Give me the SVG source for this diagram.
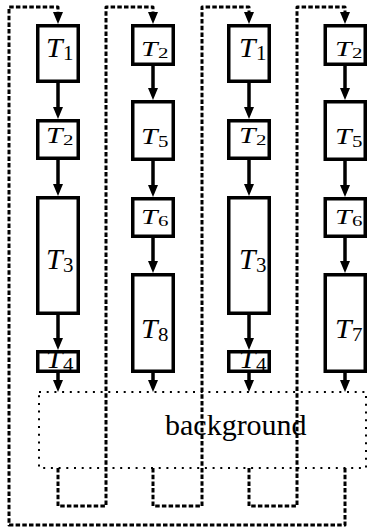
<svg xmlns="http://www.w3.org/2000/svg" width="367" height="529" viewBox="0 0 367 529">
  <defs>
    <marker id="ah" markerUnits="userSpaceOnUse" markerWidth="12" markerHeight="10" viewBox="0 0 12 10" refX="4" refY="5" orient="auto">
      <path d="M0,0 L12,5 L0,10 z" fill="#000"/>
    </marker>
    <style>
      .box{fill:#fff;stroke:#000;stroke-width:3.5}
      .open{fill:none}
      .flow{fill:none;stroke:#000;stroke-width:3.5;marker-end:url(#ah)}
      .loop{fill:none;stroke:#000;stroke-width:3;stroke-dasharray:4.5 2.2;stroke-linejoin:round;marker-end:url(#ah)}
      .bg{fill:none;stroke:#000;stroke-width:2;stroke-dasharray:2 5.7}
      .t{font-family:"Liberation Serif",serif;font-style:italic;font-size:27px}
      .s{font-family:"Liberation Serif",serif;font-size:19px}
      .bgt{font-family:"Liberation Serif",serif;font-size:30px}
    </style>
  </defs>
  <rect width="367" height="529" fill="#fff"/>

  <!-- shared background region -->
  <g id="background">
    <rect class="bg" x="39" y="392" width="327" height="76"/>
    <text class="bgt" x="165" y="435">background</text>
  </g>

  <!-- connectors -->
  <g id="connectors">
    <!-- column 1 -->
    <path class="flow" d="M58,83 V111"/>
    <path class="flow" d="M58,160 V188"/>
    <path class="flow" d="M58,315 V342"/>
    <path class="flow" d="M58,373 V384"/>
    <!-- column 2 -->
    <path class="flow" d="M153,66 V92"/>
    <path class="flow" d="M153,161 V189"/>
    <path class="flow" d="M153,238 V265"/>
    <path class="flow" d="M153,373 V384"/>
    <!-- column 3 -->
    <path class="flow" d="M249,83 V111"/>
    <path class="flow" d="M249,160 V188"/>
    <path class="flow" d="M249,315 V342"/>
    <path class="flow" d="M249,373 V384"/>
    <!-- column 4 -->
    <path class="flow" d="M345,66 V92"/>
    <path class="flow" d="M345,161 V189"/>
    <path class="flow" d="M345,238 V265"/>
    <path class="flow" d="M345,373 V384"/>
    <!-- hand-over loops between columns -->
    <path class="loop" d="M58,468 V506 H106 V7 H153 V16"/>
    <path class="loop" d="M153,468 V506 H202 V7 H249 V16"/>
    <path class="loop" d="M249,468 V506 H297 V7 H345 V16"/>
    <path class="loop" d="M345,468 V525 H9 V7 H58 V16"/>
  </g>

  <!-- column 1 -->
  <g id="c1-t1">
    <rect class="box" x="37.75" y="25.75" width="40.5" height="55.5"/>
    <g transform="translate(46,57) scale(1.1,1.05)"><text class="t">T</text><text class="s" x="15.5" y="3">1</text></g>
  </g>
  <g id="c1-t2">
    <rect class="box" x="37.75" y="120.75" width="40.5" height="37.5"/>
    <g transform="translate(46,143) scale(1.1,0.82)"><text class="t">T</text><text class="s" x="15.5" y="3">2</text></g>
  </g>
  <g id="c1-t3">
    <rect class="box" x="37.75" y="197.75" width="40.5" height="115.5"/>
    <g transform="translate(46,269) scale(1.1,1.1)"><text class="t">T</text><text class="s" x="15.5" y="3">3</text></g>
  </g>
  <g id="c1-t4">
    <g transform="translate(46,368) scale(1.1,1)"><text class="t">T</text><text class="s" x="15.5" y="3">4</text></g>
    <rect class="box open" x="37.75" y="351.75" width="40.5" height="19.5"/>
  </g>

  <!-- column 2 -->
  <g id="c2-t2">
    <rect class="box" x="132.75" y="25.75" width="40.5" height="38.5"/>
    <g transform="translate(141,56) scale(1.1,0.78)"><text class="t">T</text><text class="s" x="15.5" y="3">2</text></g>
  </g>
  <g id="c2-t5">
    <rect class="box" x="132.75" y="101.75" width="40.5" height="57.5"/>
    <g transform="translate(141,144) scale(1.1,0.88)"><text class="t">T</text><text class="s" x="15.5" y="3">5</text></g>
  </g>
  <g id="c2-t6">
    <rect class="box" x="132.75" y="198.75" width="40.5" height="37.5"/>
    <g transform="translate(141,224) scale(1.1,0.78)"><text class="t">T</text><text class="s" x="15.5" y="3">6</text></g>
  </g>
  <g id="c2-t8">
    <rect class="box" x="132.75" y="274.75" width="40.5" height="96.5"/>
    <g transform="translate(141,338) scale(1.1,1)"><text class="t">T</text><text class="s" x="15.5" y="3">8</text></g>
  </g>

  <!-- column 3 -->
  <g id="c3-t1">
    <rect class="box" x="228.75" y="25.75" width="40.5" height="55.5"/>
    <g transform="translate(239,57) scale(1.1,1.05)"><text class="t">T</text><text class="s" x="15.5" y="3">1</text></g>
  </g>
  <g id="c3-t2">
    <rect class="box" x="228.75" y="120.75" width="40.5" height="37.5"/>
    <g transform="translate(239,143) scale(1.1,0.82)"><text class="t">T</text><text class="s" x="15.5" y="3">2</text></g>
  </g>
  <g id="c3-t3">
    <rect class="box" x="228.75" y="197.75" width="40.5" height="115.5"/>
    <g transform="translate(239,269) scale(1.1,1.1)"><text class="t">T</text><text class="s" x="15.5" y="3">3</text></g>
  </g>
  <g id="c3-t4">
    <g transform="translate(239,368) scale(1.1,1)"><text class="t">T</text><text class="s" x="15.5" y="3">4</text></g>
    <rect class="box open" x="228.75" y="351.75" width="40.5" height="19.5"/>
  </g>

  <!-- column 4 -->
  <g id="c4-t2">
    <rect class="box" x="325.25" y="25.75" width="40" height="38.5"/>
    <g transform="translate(335,56) scale(1.1,0.78)"><text class="t">T</text><text class="s" x="15.5" y="3">2</text></g>
  </g>
  <g id="c4-t5">
    <rect class="box" x="325.25" y="101.75" width="40" height="57.5"/>
    <g transform="translate(335,144) scale(1.1,0.88)"><text class="t">T</text><text class="s" x="15.5" y="3">5</text></g>
  </g>
  <g id="c4-t6">
    <rect class="box" x="325.25" y="198.75" width="40" height="37.5"/>
    <g transform="translate(335,224) scale(1.1,0.78)"><text class="t">T</text><text class="s" x="15.5" y="3">6</text></g>
  </g>
  <g id="c4-t7">
    <rect class="box" x="325.25" y="274.75" width="40" height="96.5"/>
    <g transform="translate(335,338) scale(1.1,1)"><text class="t">T</text><text class="s" x="15.5" y="3">7</text></g>
  </g>
</svg>
